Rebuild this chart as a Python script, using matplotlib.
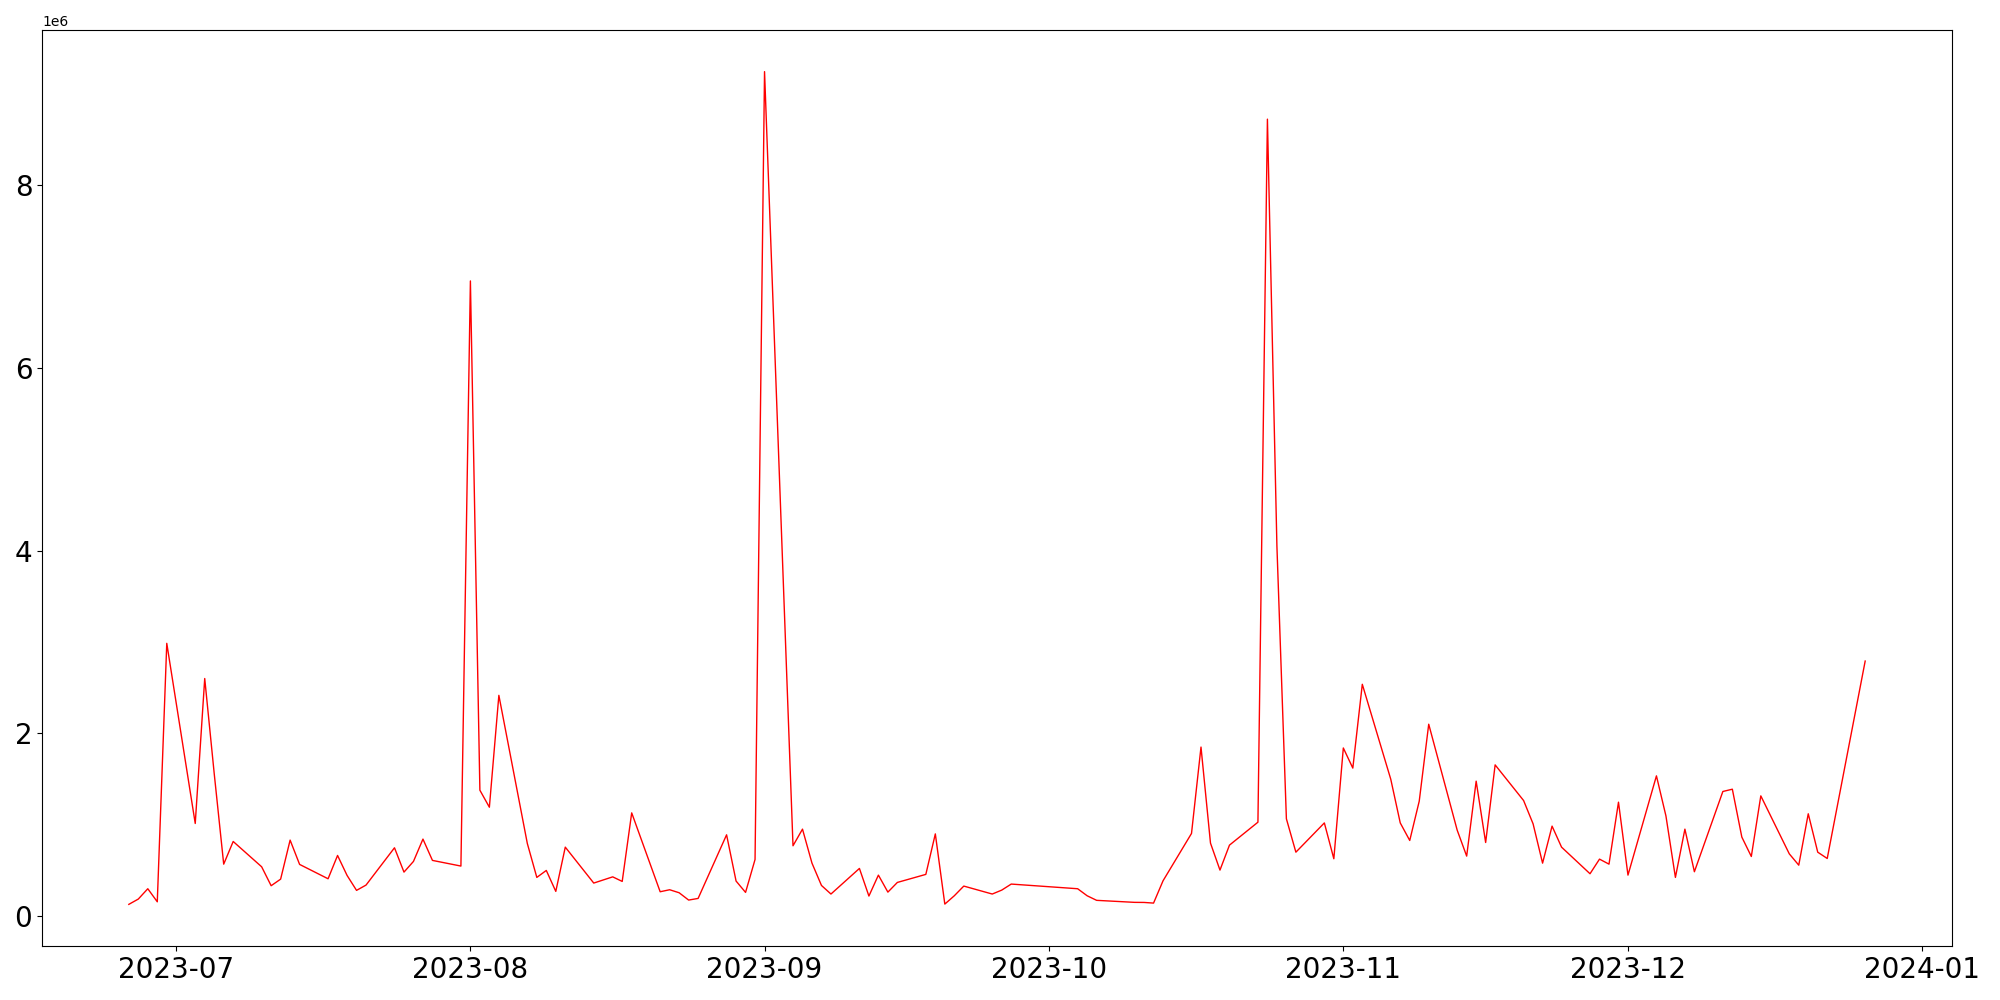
import numpy as np
import pandas as pd
import matplotlib
matplotlib.use("Agg")
import matplotlib.pyplot as plt

# daily values (weekdays only, market holidays missing)
dates = [
    "2023-06-26", "2023-06-27", "2023-06-28", "2023-06-29", "2023-06-30",
    "2023-07-03", "2023-07-04", "2023-07-05", "2023-07-06", "2023-07-07",
    "2023-07-10", "2023-07-11", "2023-07-12", "2023-07-13", "2023-07-14",
    "2023-07-17", "2023-07-18", "2023-07-19", "2023-07-20", "2023-07-21",
    "2023-07-24", "2023-07-25", "2023-07-26", "2023-07-27", "2023-07-28",
    "2023-07-31", "2023-08-01", "2023-08-02", "2023-08-03", "2023-08-04",
    "2023-08-07", "2023-08-08", "2023-08-09", "2023-08-10", "2023-08-11",
    "2023-08-14", "2023-08-16", "2023-08-17", "2023-08-18",
    "2023-08-21", "2023-08-22", "2023-08-23", "2023-08-24", "2023-08-25",
    "2023-08-28", "2023-08-29", "2023-08-30", "2023-08-31", "2023-09-01",
    "2023-09-04", "2023-09-05", "2023-09-06", "2023-09-07", "2023-09-08",
    "2023-09-11", "2023-09-12", "2023-09-13", "2023-09-14", "2023-09-15",
    "2023-09-18", "2023-09-19", "2023-09-20", "2023-09-21", "2023-09-22",
    "2023-09-25", "2023-09-26", "2023-09-27",
    "2023-10-04", "2023-10-05", "2023-10-06",
    "2023-10-10", "2023-10-11", "2023-10-12", "2023-10-13",
    "2023-10-16", "2023-10-17", "2023-10-18", "2023-10-19", "2023-10-20",
    "2023-10-23", "2023-10-24", "2023-10-25", "2023-10-26", "2023-10-27",
    "2023-10-30", "2023-10-31", "2023-11-01", "2023-11-02", "2023-11-03",
    "2023-11-06", "2023-11-07", "2023-11-08", "2023-11-09", "2023-11-10",
    "2023-11-13", "2023-11-14", "2023-11-15", "2023-11-16", "2023-11-17",
    "2023-11-20", "2023-11-21", "2023-11-22", "2023-11-23", "2023-11-24",
    "2023-11-27", "2023-11-28", "2023-11-29", "2023-11-30", "2023-12-01",
    "2023-12-04", "2023-12-05", "2023-12-06", "2023-12-07", "2023-12-08",
    "2023-12-11", "2023-12-12", "2023-12-13", "2023-12-14", "2023-12-15",
    "2023-12-18", "2023-12-19", "2023-12-20", "2023-12-21", "2023-12-22",
    "2023-12-26",
]

values_m = [
    0.129, 0.187, 0.30, 0.157, 2.985,
    1.014, 2.60, 1.56, 0.569, 0.817,
    0.54, 0.333, 0.405, 0.832, 0.566,
    0.409, 0.664, 0.446, 0.282, 0.34,
    0.748, 0.482, 0.599, 0.843, 0.61,
    0.548, 6.95, 1.378, 1.192, 2.416,
    0.795, 0.424, 0.50, 0.271, 0.755,
    0.362, 0.43, 0.38, 1.13,
    0.267, 0.289, 0.256, 0.176, 0.194,
    0.89, 0.384, 0.26, 0.62, 9.24,
    0.77, 0.952, 0.58, 0.336, 0.242,
    0.522, 0.22, 0.449, 0.263, 0.369,
    0.457, 0.90, 0.132, 0.223, 0.329,
    0.242, 0.285, 0.351,
    0.30, 0.223, 0.173,
    0.151, 0.15, 0.143, 0.387,
    0.905, 1.85, 0.799, 0.504, 0.777,
    1.028, 8.72, 4.05, 1.065, 0.70,
    1.02, 0.628, 1.84, 1.62, 2.537,
    1.498, 1.02, 0.828, 1.258, 2.10,
    0.941, 0.657, 1.477, 0.806, 1.655,
    1.265, 1.01, 0.58, 0.985, 0.755,
    0.464, 0.624, 0.569, 1.247, 0.449,
    1.535, 1.097, 0.424, 0.952, 0.486,
    1.364, 1.389, 0.865, 0.653, 1.316,
    0.682, 0.558, 1.12, 0.70, 0.631,
    2.791,
]

x = pd.to_datetime(dates)
y = np.array(values_m) * 1e6

fig, ax = plt.subplots(figsize=(20, 10), dpi=100)
fig.subplots_adjust(left=0.021, right=0.976, bottom=0.054, top=0.970)

ax.plot(x, y, color="red", linewidth=1)
ax.tick_params(axis="both", labelsize=20)

plt.savefig("out.png", dpi=100)
print("Saved out.png")
